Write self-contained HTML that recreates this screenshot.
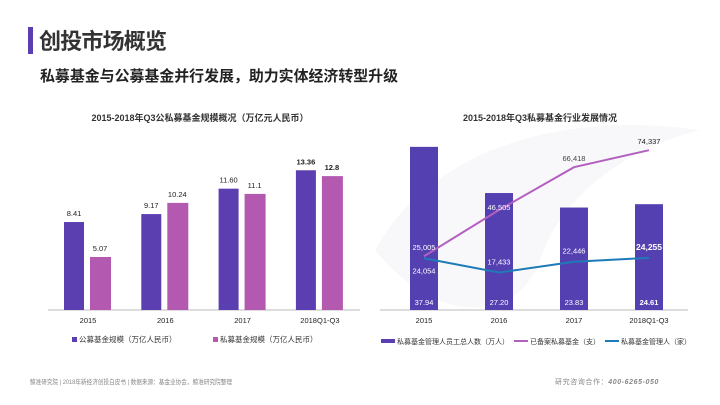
<!DOCTYPE html>
<html><head><meta charset="utf-8">
<style>
body{margin:0;width:720px;height:405px;background:#fff;overflow:hidden;font-family:"Liberation Sans","Noto Sans CJK SC",sans-serif;}
svg{display:block}
</style></head>
<body>
<svg id="s" width="720" height="405" xmlns="http://www.w3.org/2000/svg" font-family="Liberation Sans, Noto Sans CJK SC, sans-serif">
<path d="M375 250 C430 150 560 110 700 130 C620 150 560 200 540 260 C520 320 440 330 375 250Z" fill="#f8f8fa"/>
<rect x="28" y="27" width="5" height="27" fill="#5b3fb0"/>
<text x="39" y="49" font-size="22" font-weight="bold" fill="#333" textLength="128">创投市场概览</text>
<text x="40" y="81" font-size="15" font-weight="bold" fill="#222" textLength="358" lengthAdjust="spacingAndGlyphs">私募基金与公募基金并行发展，助力实体经济转型升级</text>
<text x="200" y="121" font-size="9" font-weight="bold" fill="#333" text-anchor="middle">2015-2018年Q3公私募基金规模概况（万亿元人民币）</text>
<text x="540" y="121" font-size="9" font-weight="bold" fill="#333" text-anchor="middle">2015-2018年Q3私募基金行业发展情况</text>
<line x1="48" y1="310" x2="360" y2="310" stroke="#bbb"/>
<line x1="380" y1="310" x2="688" y2="310" stroke="#bbb"/>
<g id="lg"></g><g id="rg"></g>
<rect x="72" y="337" width="5" height="5" fill="#5b3fb0"/>
<text x="79" y="342" font-size="7.5" fill="#333">公募基金规模（万亿人民币）</text>
<rect x="213" y="337" width="5" height="5" fill="#b35ab0"/>
<text x="220" y="342" font-size="7.5" fill="#333">私募基金规模（万亿人民币）</text>
<rect x="381" y="339" width="14" height="4" fill="#5b3fb0"/>
<text x="397" y="344" font-size="7" fill="#333">私募基金管理人员工总人数（万人）</text>
<line x1="514" y1="341" x2="528" y2="341" stroke="#b35fc0" stroke-width="2"/>
<text x="530" y="344" font-size="7" fill="#333">已备案私募基金（支）</text>
<line x1="605" y1="341" x2="619" y2="341" stroke="#1f7ab8" stroke-width="2"/>
<text x="621" y="344" font-size="7" fill="#333">私募基金管理人（家）</text>
<text x="30" y="384" font-size="6.5" fill="#888" textLength="202" lengthAdjust="spacingAndGlyphs">鲸准研究院 | 2018年新经济创投白皮书 | 数据来源：基金业协会，鲸准研究院整理</text>
<text x="555" y="384" font-size="7" fill="#888" letter-spacing="0.6">研究咨询合作：<tspan font-style="italic" font-weight="bold">400-6265-050</tspan></text>
</svg>
<script>
const categories=["2015","2016","2017","2018Q1-Q3"];
const publicScale=[8.41,9.17,11.60,13.36];
const privateScale=[5.07,10.24,11.1,12.8];
const publicLabels=["8.41","9.17","11.60","13.36"];
const privateLabels=["5.07","10.24","11.1","12.8"];
const staffCount=[37.94,27.20,23.83,24.61];
const fundCount=[25005,46505,66418,74337];
const managerCount=[24054,17433,22446,24255];
const staffLabels=["37.94","27.20","23.83","24.61"];
const fundLabels=["25,005","46,505","66,418","74,337"];
const managerLabels=["24,054","17,433","22,446","24,255"];
const NS="http://www.w3.org/2000/svg";
function mk(parent,tag,attrs,text){const e=document.createElementNS(NS,tag);for(const k in attrs)e.setAttribute(k,attrs[k]);if(text!==undefined)e.textContent=text;parent.appendChild(e);return e;}
const base=310;
const lx=i=>88+i*77.3, ly=v=>base-v*10.46;
const rx=i=>424+i*75, rbar=v=>base-v*4.3, rline=v=>base-v*0.00215;
const lg=document.getElementById('lg'), rg=document.getElementById('rg');
categories.forEach((c,i)=>{
  const bold=i===3;
  let r=mk(lg,'rect',{x:lx(i)-24,y:ly(publicScale[i]),width:20,height:base-ly(publicScale[i]),fill:'#5b3fb0'});
  
  
  r=mk(lg,'rect',{x:lx(i)+2,y:ly(privateScale[i]),width:21,height:base-ly(privateScale[i]),fill:'#b35ab0'});
  
  
  let t=mk(lg,'text',{x:lx(i)-14,y:ly(publicScale[i])-6,'font-size':7.5,'text-anchor':'middle',fill:'#222','font-weight':bold?'bold':'normal'},publicLabels[i]);
  
  
  t=mk(lg,'text',{x:lx(i)+12,y:ly(privateScale[i])-6,'font-size':7.5,'text-anchor':'middle',fill:'#222','font-weight':bold?'bold':'normal'},privateLabels[i]);
  
  
  t=mk(lg,'text',{x:lx(i),y:323,'font-size':7.5,'text-anchor':'middle',fill:'#222'},c);
  
  
  r=mk(rg,'rect',{x:rx(i)-14,y:rbar(staffCount[i]),width:28,height:base-rbar(staffCount[i]),fill:'#5540b2'});
  
  
  t=mk(rg,'text',{x:rx(i),y:305,'font-size':7.5,'text-anchor':'middle',fill:'#fff','font-weight':bold?'bold':'normal'},staffLabels[i]);
  
  
  t=mk(rg,'text',{x:rx(i),y:323,'font-size':7.5,'text-anchor':'middle',fill:'#222'},c);
  
  
});
const fp=fundCount.map((v,i)=>rx(i)+','+rline(v)).join(' ');
const mp=managerCount.map((v,i)=>rx(i)+','+rline(v)).join(' ');
let pl=mk(rg,'polyline',{points:fp,fill:'none',stroke:'#b35fc0','stroke-width':2});


pl=mk(rg,'polyline',{points:mp,fill:'none',stroke:'#1f7ab8','stroke-width':2});


const fcol=['#fff','#fff','#444','#222'], mcol=['#fff','#fff','#fff','#fff'];
categories.forEach((c,i)=>{
  let t=mk(rg,'text',{x:rx(i),y:rline(fundCount[i])-(i===1?0:6),'font-size':7.5,'text-anchor':'middle',fill:fcol[i]},fundLabels[i]);
  
  
  t=mk(rg,'text',{x:rx(i),y:i===0?rline(managerCount[i])+15:rline(managerCount[i])-8,'font-size':i===3?8.5:7.5,'font-weight':i===3?'bold':'normal','text-anchor':'middle',fill:mcol[i]},managerLabels[i]);
  
  
});
</script>
</body></html>
